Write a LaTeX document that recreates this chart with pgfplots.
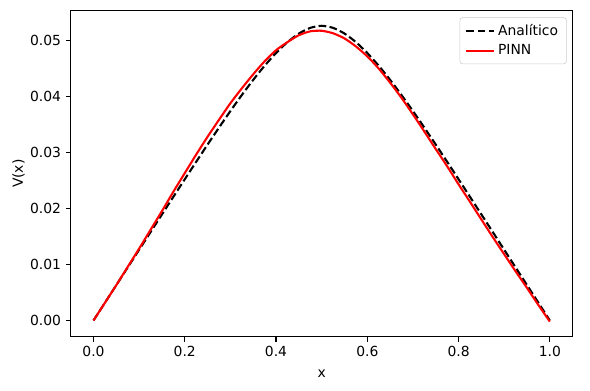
\documentclass[border=0pt]{standalone}
\usepackage{pgfplots}
\pgfplotsset{compat=1.18}
\usepackage{fontspec}
\setmainfont{DejaVu Sans}
\usetikzlibrary{calc}
\begin{document}
\begin{tikzpicture}
\begin{axis}[
  scale only axis,
  width=361.4pt, height=234.7pt,
  xmin=-0.05, xmax=1.05,
  ymin=-0.0029, ymax=0.0554,
  xtick={0,0.2,0.4,0.6,0.8,1.0},
  ytick={0,0.01,0.02,0.03,0.04,0.05},
  scaled y ticks=false, scaled x ticks=false,
  xticklabel style={/pgf/number format/.cd,fixed,fixed zerofill,precision=1},
  yticklabel style={/pgf/number format/.cd,fixed,fixed zerofill,precision=2},
  /pgf/number format/assume math mode=true,
  tick align=outside, tick pos=left,
  major tick length=3.5pt,
  every tick/.style={line width=0.8pt, black},
  axis line style={line width=0.8pt},
  ticklabel style={font=\fontsize{10}{12}\selectfont},
  label style={font=\fontsize{10}{12}\selectfont},
  xlabel={x}, ylabel={V(x)},
  xlabel style={yshift=-2.3pt},
  ylabel style={yshift=-3pt},
  legend style={at={(1,1)}, anchor=north east, xshift=-4.3pt, yshift=-4.8pt,
    draw=black!20, rounded corners=2pt, font=\fontsize{10}{12}\selectfont,
    inner xsep=4pt, inner ysep=3pt, row sep=1pt},
  legend cell align=left,
  legend image code/.code={\draw[#1] (0pt,0pt) -- (20pt,0pt);},
]
\addplot[black, line width=1.5pt, dash pattern=on 5.55pt off 2.4pt, smooth, tension=0.4] coordinates {
(0,0) (0.025,0.003162) (0.05,0.006324) (0.075,0.009486) (0.1,0.012647)
(0.125,0.015807) (0.15,0.018964) (0.175,0.022115) (0.2,0.025253)
(0.225,0.028370) (0.25,0.031455) (0.275,0.034489) (0.3,0.037452)
(0.325,0.040311) (0.35,0.043028) (0.375,0.045554) (0.4,0.047829)
(0.425,0.049779) (0.45,0.051314) (0.475,0.05233) (0.5,0.0527)
(0.525,0.05233) (0.55,0.051314) (0.575,0.049779) (0.6,0.047829)
(0.625,0.045554) (0.65,0.043028) (0.675,0.040311) (0.7,0.037452)
(0.725,0.034489) (0.75,0.031455) (0.775,0.028370) (0.8,0.025253)
(0.825,0.022115) (0.85,0.018964) (0.875,0.015807) (0.9,0.012647)
(0.925,0.009486) (0.95,0.006324) (0.975,0.003162) (1.0,0)
};
\addlegendentry{Analítico}
\addplot[red, line width=1.5pt, smooth, tension=0.4] coordinates {
(0,0) (0.025,0.00316) (0.05,0.00632) (0.075,0.00959) (0.1,0.01285)
(0.125,0.01621) (0.15,0.01956) (0.175,0.02302) (0.2,0.02635)
(0.225,0.02967) (0.25,0.03286) (0.275,0.03589) (0.3,0.03885)
(0.325,0.04151) (0.35,0.04403) (0.375,0.04635) (0.4,0.04833)
(0.425,0.04978) (0.45,0.05101) (0.475,0.05171) (0.5,0.05181)
(0.525,0.05136) (0.55,0.05044) (0.575,0.04901) (0.6,0.04723)
(0.625,0.04505) (0.65,0.04253) (0.675,0.03981) (0.7,0.03685)
(0.725,0.03379) (0.75,0.03066) (0.775,0.02757) (0.8,0.02435)
(0.825,0.02122) (0.85,0.01806) (0.875,0.01491) (0.9,0.01185)
(0.925,0.00879) (0.95,0.00582) (0.975,0.00276) (1.0,-0.0002)
};
\addlegendentry{PINN}
\end{axis}
\path ($(current axis.south west)+(-50.9pt,-38.4pt)$) rectangle ($(current axis.north east)+(12.5pt,7.7pt)$);
\end{tikzpicture}
\end{document}
